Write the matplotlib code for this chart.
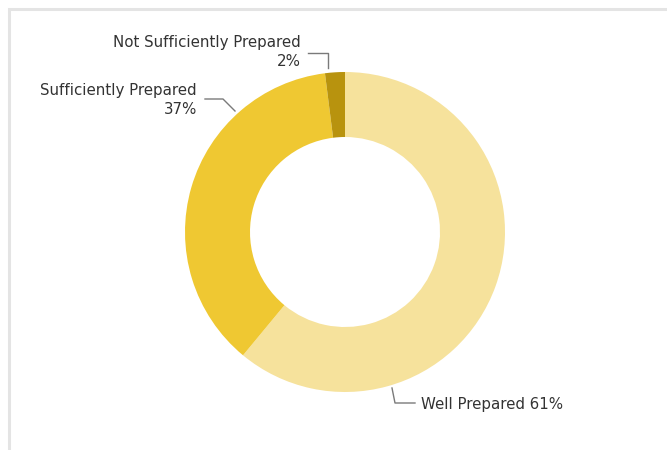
import matplotlib
matplotlib.use('Agg')
import matplotlib.pyplot as plt

# survey breakdown, drawn clockwise from 12 o'clock
categories = ['Well Prepared', 'Sufficiently Prepared', 'Not Sufficiently Prepared']
shares = [61, 37, 2]
colors = ['#F6E29C', '#EFC832', '#B8930E']

W, H = 667, 450
CX, CY = 345, 232
R_OUT, R_IN = 160, 95

TEXT = '#333333'
LEADER = '#7a7a7a'


def py(y):
    # pixel rows counted from the top
    return H - y


fig = plt.figure(figsize=(W / 100, H / 100), dpi=100, facecolor='white')
ax = fig.add_axes([0, 0, 1, 1])

ax.pie(shares, colors=colors, startangle=90, counterclock=False,
       center=(CX, py(CY)), radius=R_OUT,
       wedgeprops=dict(width=R_OUT - R_IN, linewidth=0))

ax.set_xlim(0, W)
ax.set_ylim(0, H)
ax.set_aspect('equal')
ax.axis('off')

# card border (top and left edges visible)
ax.plot([9, 9, W], [py(H), py(9), py(9)], color='#e4e4e4', lw=2.2,
        solid_joinstyle='miter')

font = dict(family='DejaVu Sans', fontsize=10.8, color=TEXT)

# Not Sufficiently Prepared
ax.text(301, py(43), categories[2], ha='right', va='center', **font)
ax.text(301, py(62), f'{shares[2]}%', ha='right', va='center', **font)
ax.plot([308, 328, 328], [py(53), py(53), py(68)], color=LEADER, lw=1)

# Sufficiently Prepared
ax.text(197, py(90), categories[1], ha='right', va='center', **font)
ax.text(197, py(109), f'{shares[1]}%', ha='right', va='center', **font)
ax.plot([205, 223, 235], [py(99), py(99), py(111)], color=LEADER, lw=1)

# Well Prepared
ax.text(421, py(404), f'{categories[0]} {shares[0]}%', ha='left', va='center', **font)
ax.plot([392, 395, 415], [py(388), py(403), py(403)], color=LEADER, lw=1)

fig.savefig('out.png', dpi=100, facecolor='white')
